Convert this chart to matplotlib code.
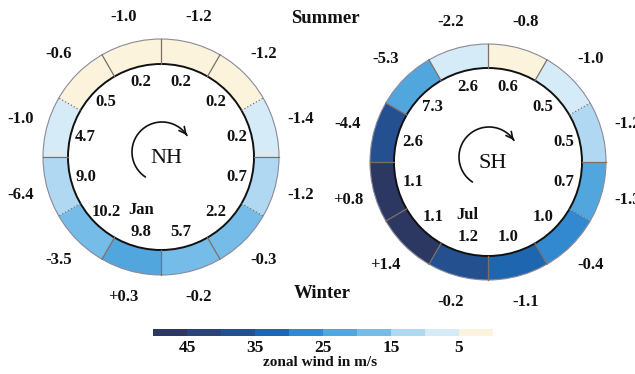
import numpy as np
import matplotlib
matplotlib.use('Agg')
import matplotlib.pyplot as plt
from matplotlib.patches import Wedge, Circle
from matplotlib.colors import ListedColormap, BoundaryNorm
import matplotlib.colorbar as mcolorbar

# monthly values, Jan..Dec
months = ['Jan', 'Feb', 'Mar', 'Apr', 'May', 'Jun', 'Jul', 'Aug', 'Sep', 'Oct', 'Nov', 'Dec']
nh_inner = ['9.8', '10.2', '9.0', '4.7', '0.5', '0.2', '0.2', '0.2', '0.2', '0.7', '2.2', '5.7']
nh_outer = ['+0.3', '-3.5', '-6.4', '-1.0', '-0.6', '-1.0', '-1.2', '-1.2', '-1.4', '-1.2', '-0.3', '-0.2']
nh_wind = [23, 18, 12, 7, 3, 2, 2, 3, 7, 12, 18, 17]

sh_inner = ['0.6', '0.5', '0.5', '0.7', '1.0', '1.0', '1.2', '1.1', '1.1', '2.6', '7.3', '2.6']
sh_outer = ['-0.8', '-1.0', '-1.2', '-1.3', '-0.4', '-1.1', '-0.2', '+1.4', '+0.8', '-4.4', '-5.3', '-2.2']
sh_wind = [3, 8, 12, 22, 27, 33, 38, 47, 47, 38, 22, 8]

wind_levels = [0, 5, 10, 15, 20, 25, 30, 35, 40, 45, 50]
wind_colors = ['#fcf3dc', '#d6ebf8', '#b0d8f2', '#76bce8', '#52a6de',
               '#3389cf', '#1f66b1', '#24508f', '#2a4479', '#2d3862']
cbar_ticks = [45, 35, 25, 15, 5]

cmap = ListedColormap(wind_colors)
norm = BoundaryNorm(wind_levels, cmap.N)

W, H = 635, 374
fig = plt.figure(figsize=(W / 100, H / 100), dpi=100, facecolor='white')
ax = fig.add_axes([0, 0, 1, 1])
ax.set_xlim(0, W)
ax.set_ylim(0, H)
ax.axis('off')

FONT = 'Liberation Serif'
INK = '#111111'


def clock_xy(cx, cy, r, ang):
    a = np.radians(ang)
    return cx + r * np.sin(a), cy + r * np.cos(a)


def draw_ring(cx, cy, r_in, r_out, wind, inner, outer, offset, name, month_lbl, dotted):
    cy = H - cy
    for m in range(12):
        k = (m + offset) % 12
        a1, a2 = 30 * k, 30 * k + 30
        ax.add_patch(Wedge((cx, cy), r_out, 90 - a2, 90 - a1, width=r_out - r_in,
                           facecolor=cmap(norm(wind[m])), edgecolor='none'))
        mid = a1 + 15
        x, y = clock_xy(cx, cy, 78, mid)
        ax.text(x, y, inner[m], ha='center', va='center', fontsize=12,
                fontweight='bold', family=FONT, color=INK)
        x, y = clock_xy(cx, cy, 145, mid)
        ax.text(x, y, outer[m], ha='center', va='center', fontsize=12,
                fontweight='bold', family=FONT, color=INK)
        if k == 6:
            x, y = clock_xy(cx, cy, 78, mid)
            ax.text(x, y + 14, month_lbl, ha='center', va='bottom', fontsize=12,
                    fontweight='bold', family=FONT, color=INK)
    # segment boundaries
    for k in range(12):
        p1 = clock_xy(cx, cy, r_in, 30 * k)
        p2 = clock_xy(cx, cy, r_out, 30 * k)
        ls = ':' if k in dotted else '-'
        ax.plot([p1[0], p2[0]], [p1[1], p2[1]], color='#7d6f68', lw=0.9, ls=ls)
    ax.add_patch(Circle((cx, cy), r_out, fill=False, edgecolor='#8a8a9a', lw=0.8))
    ax.add_patch(Circle((cx, cy), r_in, fill=False, edgecolor=INK, lw=1.4))

    # centre label and clockwise arrow
    ax.text(cx + 5, cy - 1, name, ha='center', va='center', fontsize=16,
            family=FONT, color=INK)
    acx, acy = cx + 1, cy + 5
    angs = np.linspace(214, 360 + 56, 80)
    xs, ys = clock_xy(acx, acy, 30, angs)
    ax.plot(xs, ys, color=INK, lw=1.2)
    ax.annotate('', xy=(xs[-1], ys[-1]), xytext=(xs[-4], ys[-4]),
                arrowprops=dict(arrowstyle='->', lw=1.2, color=INK,
                                mutation_scale=12))


draw_ring(161, 157, 93, 118, nh_wind, nh_inner, nh_outer, 6, 'NH', 'Jan', [2, 4, 8, 10])
draw_ring(488, 162, 94, 118, sh_wind, sh_inner, sh_outer, 0, 'SH', 'Jul', [2, 4])

ax.text(325, H - 18, 'Summer', ha='center', va='center', fontsize=13.5,
        fontweight='bold', family=FONT, color=INK)
ax.text(322, H - 293, 'Winter', ha='center', va='center', fontsize=13.5,
        fontweight='bold', family=FONT, color=INK)

# colorbar, 50 on the left down to 0 on the right
cax = fig.add_axes([153 / W, 1 - 336 / H, 340 / W, 7 / H])
cb = mcolorbar.ColorbarBase(cax, cmap=cmap, norm=norm, orientation='horizontal',
                            ticks=cbar_ticks)
cb.outline.set_visible(False)
cax.invert_xaxis()
cax.minorticks_off()
cax.tick_params(which='both', length=0, pad=3)
for t in cax.get_xticklabels():
    t.set_fontsize(12.5)
    t.set_fontweight('bold')
    t.set_family(FONT)
    t.set_color(INK)
fig.text(320 / W, 1 - 362 / H, 'zonal wind in m/s', ha='center', va='center',
         fontsize=11, fontweight='bold', family=FONT, color=INK)

fig.savefig('out.png', dpi=100, facecolor='white')
